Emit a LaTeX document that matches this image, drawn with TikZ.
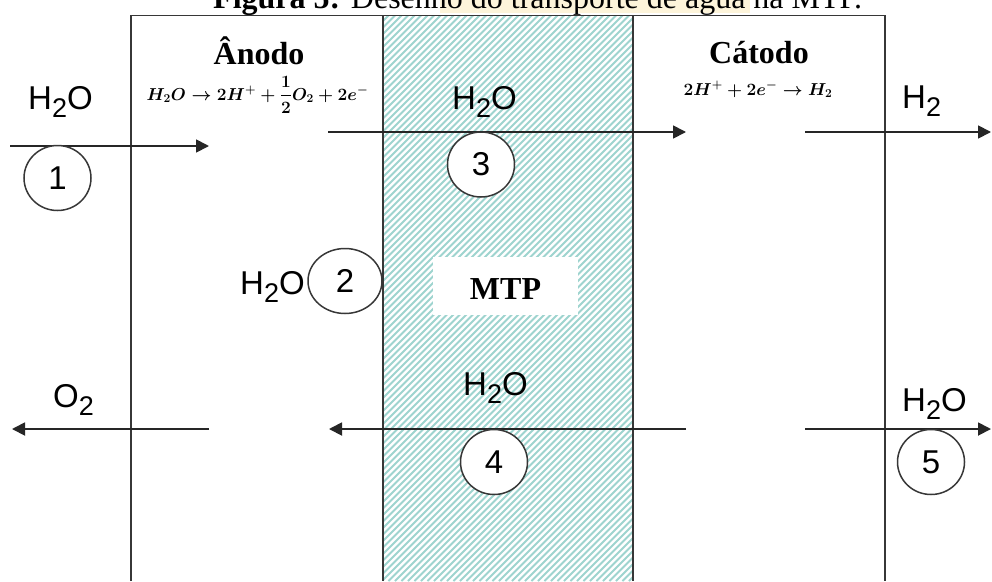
\documentclass[tikz,border=0pt]{standalone}
\usepackage{fontspec}
\usepackage{amsmath}
\setmainfont{Liberation Serif}
\newfontfamily\arialf{Liberation Sans}
\usetikzlibrary{arrows.meta,shapes.geometric}
\definecolor{hatchcol}{RGB}{158,212,207}
\definecolor{linecol}{RGB}{55,55,55}
\definecolor{bandcol}{RGB}{253,244,218}
\newcommand{\wtr}{H\raisebox{-8pt}{\fontsize{27}{27}\selectfont 2}O}
\newcommand{\hyd}{H\raisebox{-8pt}{\fontsize{27}{27}\selectfont 2}}
\newcommand{\oxy}{O\raisebox{-8pt}{\fontsize{27}{27}\selectfont 2}}
\begin{document}
\begin{tikzpicture}[x=1pt,y=-1pt,
  frame/.style={draw=linecol, line width=1.8pt},
  flow/.style={draw=black!85, line width=1.8pt, -{Triangle[length=13pt,width=13pt]}},
  chem/.style={font=\arialf\fontsize{33}{33}\selectfont, inner sep=0pt, anchor=base west},
  num/.style={ellipse, draw=linecol, line width=1.5pt, fill=white, inner sep=0pt,
    minimum width=67pt, minimum height=65pt, font=\arialf\fontsize{33}{33}\selectfont},
  head/.style={font=\bfseries\fontsize{32}{32}\selectfont, inner sep=0pt, anchor=base},
  eqn/.style={font=\fontsize{16.5}{16.5}\selectfont\mathversion{bold}, inner sep=0pt, anchor=base}
]
\useasboundingbox (0,0) rectangle (992,581);
\clip (0,0) rectangle (992,581);
\fill[white] (0,0) rectangle (992,581);
\fill[bandcol] (440,0) rectangle (750,13);

% caption (cut at top)
\node[font=\fontsize{32}{32}\selectfont, inner sep=0pt, anchor=base west] (caption) at (213,8)
  {\textbf{Figura 5:} Desenho do transporte de água na MTP.};

% membrane hatch
\begin{scope}
  \clip (383,15) rectangle (633,581);
  \foreach \k in {-190,-183.5,...,650} {
    \draw[hatchcol, line width=2pt] (\k,581) -- (\k+566,15);
  }
\end{scope}

% frame lines
\draw[frame] (131,581) -- (131,15.5) -- (885,15.5) -- (885,581);
\draw[frame] (383,15.5) -- (383,581);
\draw[frame] (633,15.5) -- (633,581);

% MTP label
\node[fill=white, minimum width=145pt, minimum height=58pt, inner sep=0pt] (mtpbox) at (505.5,286) {};
\node[head] (mtp) at (505.5,299) {MTP};

% headings and equations
\node[head] (anodo) at (259,64) {Ânodo};
\node[head] (catodo) at (759,63) {Cátodo};
\node[eqn] (eqa) at (257.5,100) {$H_2O \rightarrow 2H^+ + \dfrac{1}{2}O_2 + 2e^-$};
\node[eqn] (eqc) at (758,95) {$2H^+ + 2e^- \rightarrow H_2$};

% coordinates for arrows
\coordinate (a1s) at (10,146);   \coordinate (a1e) at (209,146);
\coordinate (a3s) at (328,132);  \coordinate (a3e) at (686,132);
\coordinate (ahs) at (805,132);  \coordinate (ahe) at (991,132);
\coordinate (aos) at (209,429);  \coordinate (aoe) at (12,429);
\coordinate (a4s) at (686,429);  \coordinate (a4e) at (329,429);
\coordinate (a5s) at (805,429);  \coordinate (a5e) at (991,429);

\draw[flow] (a1s) -- (a1e);
\draw[flow] (a3s) -- (a3e);
\draw[flow] (ahs) -- (ahe);
\draw[flow] (aos) -- (aoe);
\draw[flow] (a4s) -- (a4e);
\draw[flow] (a5s) -- (a5e);

% species labels
\node[chem] (w1) at (28,109) {\wtr};
\node[chem] (w3) at (452,109) {\wtr};
\node[chem] (w2) at (240,294) {\wtr};
\node[chem] (w4) at (463,395) {\wtr};
\node[chem] (w5) at (902,411) {\wtr};
\node[chem] (o2) at (53,407) {\oxy};
\node[chem] (h2) at (902,108) {\hyd};

% numbered circles
\node[num] (n1) at (57.5,178) {1};
\node[num, minimum width=74pt] (n2) at (345,281) {2};
\node[num] (n3) at (481,164.5) {3};
\node[num] (n4) at (494,462) {4};
\node[num] (n5) at (931,462) {5};
\end{tikzpicture}
\end{document}
